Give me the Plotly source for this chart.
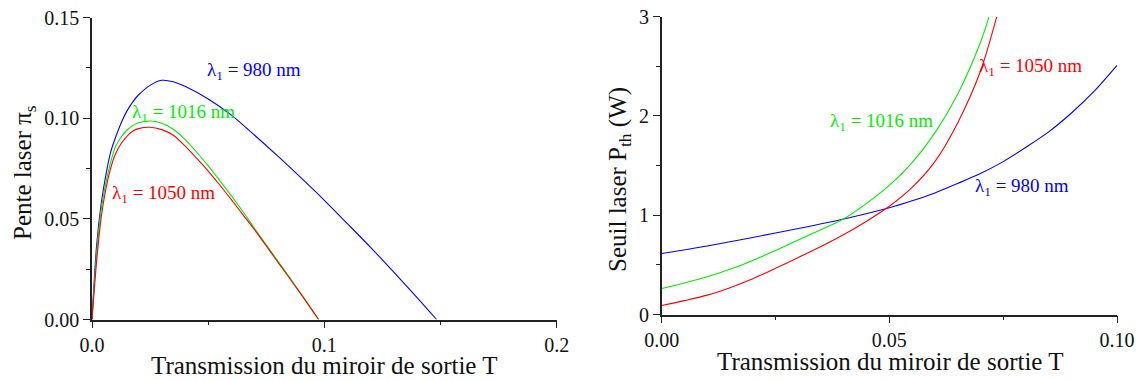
import plotly.graph_objects as go

# ---------------- Data ----------------
# Left panel: slope efficiency (pente laser) vs output coupler transmission T
T_slope_980 = [0, 0.002, 0.004, 0.006, 0.008, 0.010, 0.0125, 0.015, 0.0175, 0.020, 0.025,
               0.030, 0.035, 0.040, 0.050, 0.060, 0.070, 0.080, 0.090, 0.100, 0.110,
               0.120, 0.130, 0.140, 0.1483]
slope_980 = [0, 0.037, 0.058, 0.072, 0.083, 0.090, 0.0975, 0.1035, 0.108, 0.1115, 0.1163,
             0.1188, 0.1181, 0.1158, 0.1095, 0.1015, 0.0915, 0.0811, 0.0703, 0.0592, 0.0475,
             0.0357, 0.0234, 0.0108, 0.0]

T_slope_1016 = [0, 0.002, 0.004, 0.006, 0.008, 0.010, 0.0125, 0.015, 0.0175, 0.020, 0.025,
                0.030, 0.035, 0.040, 0.045, 0.050, 0.055, 0.060, 0.065, 0.070, 0.080,
                0.090, 0.0976]
slope_1016 = [0, 0.033, 0.055, 0.068, 0.078, 0.0855, 0.0905, 0.094, 0.0963, 0.0977, 0.0986,
              0.0975, 0.0945, 0.0895, 0.0832, 0.0763, 0.0690, 0.0614, 0.0535, 0.0452, 0.0290,
              0.0128, 0.0]

T_slope_1050 = [0, 0.002, 0.004, 0.006, 0.008, 0.010, 0.0125, 0.015, 0.0175, 0.020, 0.025,
                0.030, 0.035, 0.040, 0.045, 0.050, 0.055, 0.060, 0.065, 0.070, 0.080,
                0.090, 0.0975]
slope_1050 = [0, 0.029, 0.051, 0.065, 0.075, 0.082, 0.0873, 0.091, 0.0935, 0.0948, 0.0955,
              0.0943, 0.0915, 0.0862, 0.0801, 0.0737, 0.0668, 0.0595, 0.0520, 0.0445, 0.0285,
              0.0125, 0.0]

# Right panel: threshold pump power P_th (W) vs T
T_th_980 = [0, 0.01, 0.02, 0.03, 0.04, 0.05, 0.055, 0.06, 0.065, 0.07, 0.075, 0.08,
            0.085, 0.09, 0.095, 0.10]
th_980 = [0.614, 0.690, 0.776, 0.866, 0.962, 1.075, 1.145, 1.225, 1.32, 1.42, 1.54, 1.685,
          1.84, 2.03, 2.25, 2.51]

T_th_1016 = [0, 0.005, 0.01, 0.015, 0.02, 0.025, 0.03, 0.035, 0.04, 0.045, 0.05, 0.055,
             0.06, 0.065, 0.07, 0.0719]
th_1016 = [0.262, 0.318, 0.380, 0.455, 0.545, 0.645, 0.750, 0.855, 0.965, 1.12, 1.30, 1.53,
           1.83, 2.22, 2.74, 3.0]

T_th_1050 = [0, 0.005, 0.01, 0.015, 0.02, 0.025, 0.03, 0.035, 0.04, 0.045, 0.05, 0.055,
             0.06, 0.065, 0.07, 0.0736]
th_1050 = [0.090, 0.140, 0.195, 0.270, 0.360, 0.465, 0.575, 0.685, 0.805, 0.940, 1.09, 1.28,
           1.54, 1.93, 2.45, 3.0]

labels = ["λ<sub>1</sub> = 980 nm", "λ<sub>1</sub> = 1016 nm", "λ<sub>1</sub> = 1050 nm"]
colors = ["#0000ff", "#00ee00", "#ff0000"]

x_title = "Transmission du miroir de sortie T"
y_title_left = "Pente laser π<sub>s</sub>"
y_title_right = "Seuil laser P<sub>th</sub> (W)"

W, H = 1139, 380
FONT = "Liberation Serif, Times New Roman, serif"

fig = go.Figure()

left = [(T_slope_980, slope_980), (T_slope_1016, slope_1016), (T_slope_1050, slope_1050)]
right = [(T_th_980, th_980), (T_th_1016, th_1016), (T_th_1050, th_1050)]
for (tx, ty), c in zip(left, colors):
    fig.add_trace(go.Scatter(x=tx, y=ty, mode="lines",
                             line=dict(color=c, width=1.1, shape="spline", smoothing=0.8),
                             xaxis="x", yaxis="y", showlegend=False, hoverinfo="skip"))
for (tx, ty), c in zip(right, colors):
    fig.add_trace(go.Scatter(x=tx, y=ty, mode="lines",
                             line=dict(color=c, width=1.1, shape="spline", smoothing=0.8),
                             xaxis="x2", yaxis="y2", showlegend=False, hoverinfo="skip"))

axcommon = dict(showline=True, linecolor="#222", linewidth=1.5, mirror=False, showgrid=False,
                zeroline=False, ticks="outside", ticklen=7, tickwidth=1.3, tickcolor="#222",
                tickfont=dict(family=FONT, size=20, color="#111"), fixedrange=True,
                automargin=False)

fig.update_layout(
    width=W, height=H, margin=dict(l=0, r=0, t=0, b=0, pad=0, autoexpand=False),
    paper_bgcolor="white", plot_bgcolor="white",
    font=dict(family=FONT, color="#111"),
    xaxis=dict(domain=[92 / W, 556.7 / W], range=[0, 0.2], tickvals=[0, 0.1, 0.2],
               ticktext=["0.0", "0.1", "0.2"], anchor="y",
               minor=dict(tickvals=[0.05, 0.15], ticklen=4, tickcolor="#222", ticks="outside"), **axcommon),
    yaxis=dict(domain=[1 - 319.5 / H, 1 - 17.5 / H], range=[0, 0.15], tickvals=[0, 0.05, 0.10, 0.15],
               ticktext=["0.00", "0.05", "0.10", "0.15"], anchor="x",
               minor=dict(tickvals=[0.025, 0.075, 0.125], ticklen=4, tickcolor="#222", ticks="outside"), **axcommon),
    xaxis2=dict(domain=[661.7 / W, 1117 / W], range=[0, 0.10], tickvals=[0, 0.05, 0.10],
                ticktext=["0.00", "0.05", "0.10"], anchor="y2",
                minor=dict(tickvals=[0.025, 0.075], ticklen=4, tickcolor="#222", ticks="outside"), **axcommon),
    yaxis2=dict(domain=[1 - 314.5 / H, 1 - 16.7 / H], range=[0, 3], tickvals=[0, 1, 2, 3],
                ticktext=["0", "1", "2", "3"], anchor="x2",
                minor=dict(tickvals=[0.5, 1.5, 2.5], ticklen=4, tickcolor="#222", ticks="outside"), **axcommon),
)

ann_font = 19
left_pos = [(0.0698, 0.1235), (0.0392, 0.1025), (0.0306, 0.0625)]
for lab, c, (ax, ay) in zip(labels, colors, left_pos):
    fig.add_annotation(x=ax, y=ay, xref="x", yref="y", text=lab, showarrow=False,
                       font=dict(family=FONT, size=ann_font, color=c), xanchor="center", yanchor="middle")
right_pos = [(0.0792, 1.28), (0.0482, 1.94), (0.0809, 2.49)]
for lab, c, (ax, ay) in zip(labels, colors, right_pos):
    fig.add_annotation(x=ax, y=ay, xref="x2", yref="y2", text=lab, showarrow=False,
                       font=dict(family=FONT, size=ann_font, color=c), xanchor="center", yanchor="middle")

# axis titles
tfont = dict(family=FONT, size=25, color="#111")
fig.add_annotation(x=324 / W, y=1 - 365 / H, xref="paper", yref="paper", text=x_title, showarrow=False,
                   font=tfont, xanchor="center", yanchor="middle")
fig.add_annotation(x=890 / W, y=1 - 361 / H, xref="paper", yref="paper", text=x_title, showarrow=False,
                   font=tfont, xanchor="center", yanchor="middle")
fig.add_annotation(x=24 / W, y=1 - 173 / H, xref="paper", yref="paper", text=y_title_left, showarrow=False,
                   font=tfont, textangle=-90, xanchor="center", yanchor="middle")
fig.add_annotation(x=620 / W, y=1 - 180 / H, xref="paper", yref="paper", text=y_title_right, showarrow=False,
                   font=tfont, textangle=-90, xanchor="center", yanchor="middle")

fig.write_html("out.html", config={"displayModeBar": False},
               post_script="document.body.style.margin='0';document.body.style.overflow='hidden';")
